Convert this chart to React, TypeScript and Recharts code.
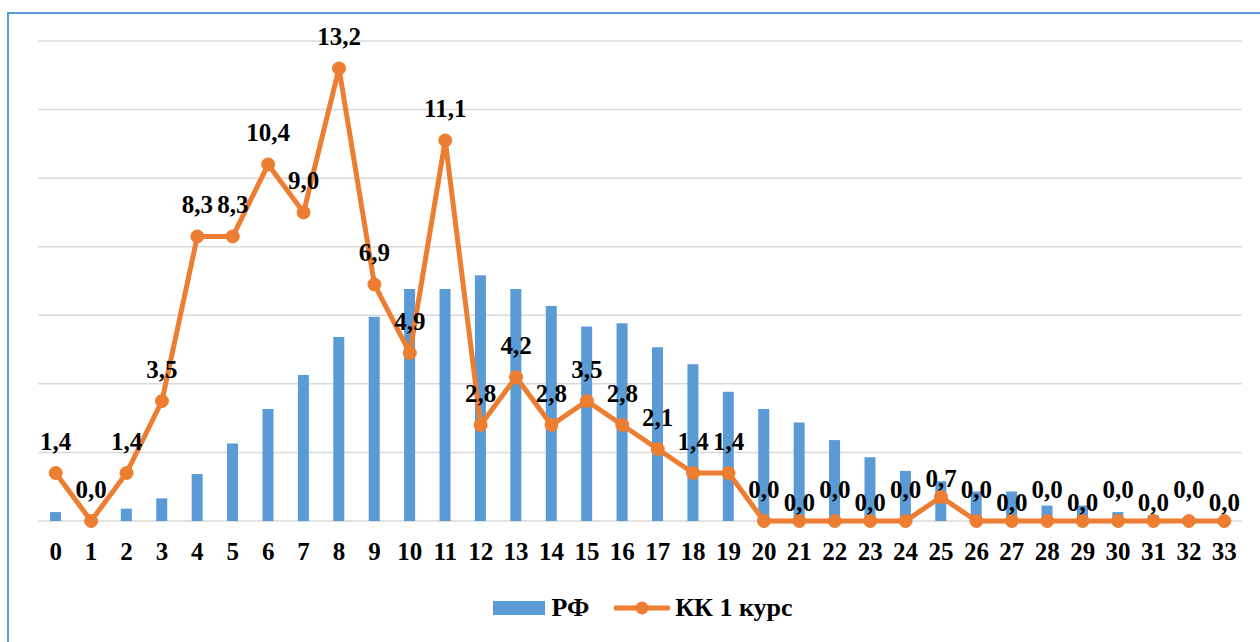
import { Bar, CartesianGrid, ComposedChart, LabelList, Line, XAxis, YAxis } from 'recharts';

const categories = [
  '0', '1', '2', '3', '4', '5', '6', '7', '8', '9', '10', '11', '12', '13', '14', '15', '16',
  '17', '18', '19', '20', '21', '22', '23', '24', '25', '26', '27', '28', '29', '30', '31', '32', '33',
];

const rfValues = [
  0.26, 0, 0.36, 0.66, 1.37, 2.26, 3.27, 4.26, 5.37, 5.96, 6.77, 6.77, 7.17, 6.77, 6.27, 5.67, 5.77,
  5.07, 4.57, 3.77, 3.27, 2.87, 2.36, 1.86, 1.46, 1.16, 0.86, 0.86, 0.45, 0.45, 0.26, 0.17, 0, 0,
];

const kkValues = [
  1.4, 0, 1.4, 3.5, 8.3, 8.3, 10.4, 9.0, 13.2, 6.9, 4.9, 11.1, 2.8, 4.2, 2.8, 3.5, 2.8,
  2.1, 1.4, 1.4, 0, 0, 0, 0, 0, 0.7, 0, 0, 0, 0, 0, 0, 0, 0,
];

const yTicks = [0, 2, 4, 6, 8, 10, 12, 14];

const seriesNames = { rf: 'РФ', kk: 'КК 1 курс' };

const BLUE = '#5B9BD5';
const ORANGE = '#ED7D31';
const FONT = "'Liberation Serif', 'Times New Roman', 'DejaVu Serif', serif";
const FS = 25;

const data = categories.map((cat, i) => ({ cat, rf: rfValues[i], kk: kkValues[i] }));

const fmt = (v: number) => v.toFixed(1).replace('.', ',');

// labels sit above the markers; in the flat tail every other one is pushed down a bit
function KkLabel(props: any) {
  const { x, y, value, index } = props;
  const low = index > 20 && index % 2 === 1;
  return (
    <text
      x={x}
      y={y - (low ? 10 : 23)}
      textAnchor="middle"
      style={{ fontFamily: FONT, fontWeight: 700, fontSize: FS }}
      fill="#000"
    >
      {fmt(Number(value))}
    </text>
  );
}

function ChartLegend() {
  const text = { fontFamily: FONT, fontWeight: 700, fontSize: FS + 1, color: '#000' };
  return (
    <div
      style={{
        position: 'absolute',
        top: 592,
        left: 0,
        width: 1286,
        display: 'flex',
        justifyContent: 'center',
        alignItems: 'center',
        height: 32,
      }}
    >
      <div style={{ width: 52, height: 14, background: BLUE, marginRight: 6 }} />
      <span style={text}>{seriesNames.rf}</span>
      <svg width={56} height={16} style={{ marginLeft: 25, marginRight: 5 }}>
        <line x1={2} y1={8} x2={54} y2={8} stroke={ORANGE} strokeWidth={5} strokeLinecap="round" />
        <circle cx={28} cy={8} r={6.5} fill={ORANGE} />
      </svg>
      <span style={text}>{seriesNames.kk}</span>
    </div>
  );
}

export default function App() {
  return (
    <div style={{ position: 'absolute', left: 0, top: 0, width: 1260, height: 642, overflow: 'hidden', background: '#fff', fontFamily: FONT }}>
      <div
        style={{
          position: 'absolute',
          left: 7,
          top: 12,
          width: 1400,
          height: 700,
          borderLeft: `2px solid ${BLUE}`,
          borderTop: `2px solid ${BLUE}`,
        }}
      />
      <div style={{ position: 'absolute', left: 0, top: 0 }}>
        <ComposedChart width={1260} height={642} data={data} margin={{ top: 41, right: 18, bottom: 91, left: 38 }}>
          <CartesianGrid vertical={false} stroke="#D9D9D9" strokeWidth={1.5} />
          <XAxis
            dataKey="cat"
            axisLine={false}
            tickLine={false}
            tickSize={0}
            tickMargin={21}
            interval={0}
            tick={{ style: { fontFamily: FONT, fontWeight: 700, fontSize: FS }, fill: '#000' }}
          />
          <YAxis hide domain={[0, 14]} ticks={yTicks} />
          <Bar dataKey="rf" name={seriesNames.rf} fill={BLUE} barSize={11} isAnimationActive={false} />
          <Line
            dataKey="kk"
            name={seriesNames.kk}
            stroke={ORANGE}
            strokeWidth={5}
            dot={{ r: 6.5, fill: ORANGE, stroke: ORANGE, strokeWidth: 1 }}
            activeDot={false}
            isAnimationActive={false}
          >
            <LabelList dataKey="kk" content={<KkLabel />} />
          </Line>
        </ComposedChart>
      </div>
      <ChartLegend />
    </div>
  );
}
